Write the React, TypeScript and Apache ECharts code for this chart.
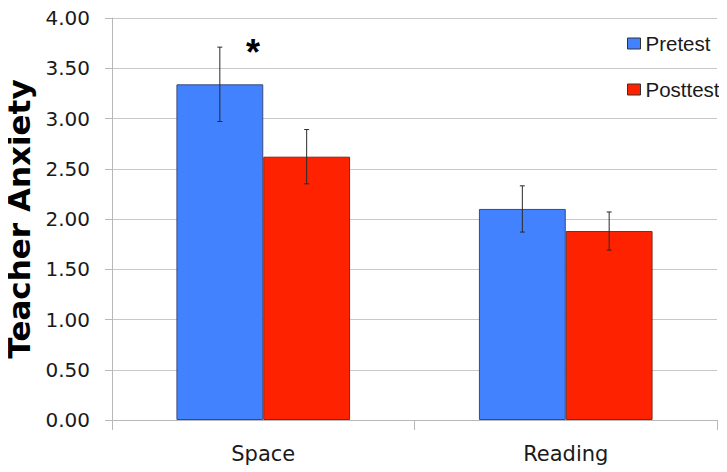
import React, { useEffect, useRef } from "react";
import * as echarts from "echarts";

const categories = ["Space", "Reading"];
const pretest = [3.34, 2.1];
const posttest = [2.62, 1.88];
const pretestErr = [0.37, 0.23];
const posttestErr = [0.27, 0.19];
const yTicks = { min: 0, max: 4, interval: 0.5 };

const FONT = "DejaVu Sans, Verdana, sans-serif";
const LEG_FONT = "Liberation Sans, Arial, Helvetica, sans-serif";
const BLUE = "#4282FF";
const RED = "#FF2200";

export default function App() {
  const ref = useRef<HTMLDivElement>(null);
  useEffect(() => {
    if (!ref.current) return;
    const chart = echarts.init(ref.current, undefined, { renderer: "svg" });
    const errData: number[][] = [];
    categories.forEach((_, i) => {
      errData.push([i, pretest[i], pretestErr[i], 0]);
      errData.push([i, posttest[i], posttestErr[i], 1]);
    });
    chart.setOption({
      animation: false,
      backgroundColor: "#ffffff",
      textStyle: { fontFamily: FONT },
      grid: { left: 112, right: 10, top: 18, bottom: 52, containLabel: false, outerBoundsMode: "none" },
      legend: {
        orient: "vertical",
        left: 622,
        top: 28,
        icon: "rect",
        itemWidth: 13,
        itemHeight: 11,
        itemGap: 25,
        data: ["Pretest", "Posttest"],
        itemStyle: { borderColor: "#333", borderWidth: 1 },
        textStyle: { fontSize: 20.5, color: "#1a1a1a", fontFamily: LEG_FONT },
      },
      xAxis: {
        type: "category",
        data: categories,
        axisLine: { lineStyle: { color: "#b8b8b8" } },
        axisTick: { show: true, length: 10, lineStyle: { color: "#b8b8b8" } },
        axisLabel: { fontSize: 21, color: "#1a1a1a", margin: 23, fontFamily: FONT },
      },
      yAxis: {
        type: "value",
        min: yTicks.min,
        max: yTicks.max,
        interval: yTicks.interval,
        name: "Teacher Anxiety",
        nameLocation: "middle",
        nameGap: 74,
        nameRotate: 90,
        nameTextStyle: { fontSize: 31, fontWeight: "bold", color: "#000", fontFamily: FONT },
        axisLine: { show: true, lineStyle: { color: "#b8b8b8" } },
        axisTick: { show: true, length: 7, lineStyle: { color: "#b8b8b8" } },
        splitLine: { lineStyle: { color: "#c8c8c8" } },
        axisLabel: {
          fontSize: 20,
          color: "#1a1a1a",
          margin: 22,
          fontFamily: FONT,
          formatter: (v: number) => v.toFixed(2),
        },
      },
      series: [
        {
          name: "Pretest",
          type: "bar",
          data: pretest,
          barGap: "0%",
          barCategoryGap: "42.6%",
          itemStyle: { color: BLUE, borderColor: "#3a4a7a", borderWidth: 1 },
        },
        {
          name: "Posttest",
          type: "bar",
          data: posttest,
          barGap: "0%",
          barCategoryGap: "42.6%",
          itemStyle: { color: RED, borderColor: "#7a2a1a", borderWidth: 1 },
        },
        {
          type: "custom",
          name: "err",
          data: errData,
          z: 10,
          renderItem: (params: any, api: any) => {
            const i = api.value(0);
            const v = api.value(1);
            const e = api.value(2);
            const s = api.value(3);
            const band = api.size([1, 0])[0];
            const bw = (band * (1 - 0.426)) / 2;
            const center = api.coord([i, v]);
            const x = center[0] + (s === 0 ? -bw / 2 : bw / 2);
            const top = api.coord([i, v + e])[1];
            const bot = api.coord([i, v - e])[1];
            const cap = 2.5;
            const style = { stroke: "#2a2a2a", lineWidth: 1 };
            return {
              type: "group",
              children: [
                { type: "line", shape: { x1: x, y1: top, x2: x, y2: bot }, style },
                { type: "line", shape: { x1: x - cap, y1: top, x2: x + cap, y2: top }, style },
                { type: "line", shape: { x1: x - cap, y1: bot, x2: x + cap, y2: bot }, style },
              ],
            };
          },
        },
      ],
      graphic: [
        {
          type: "text",
          x: 253,
          y: 34,
          style: {
            text: "*",
            fontSize: 36,
            fontWeight: "bold",
            fill: "#000",
            fontFamily: "Liberation Sans, Arial, sans-serif",
            textAlign: "center",
            textVerticalAlign: "top",
          },
        },
      ],
    });
    return () => chart.dispose();
  }, []);
  return <div ref={ref} style={{ width: 727, height: 472, marginLeft: -8, marginTop: -8 }} />;
}
